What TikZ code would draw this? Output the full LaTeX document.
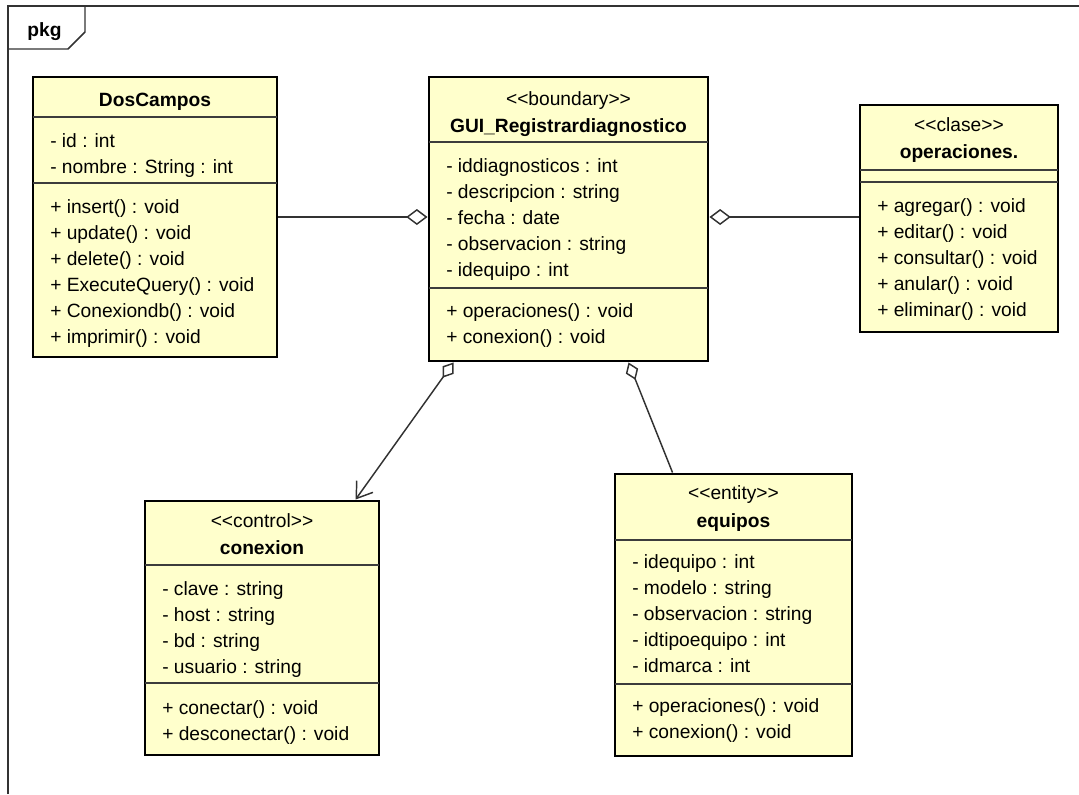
\documentclass[tikz,border=0pt]{standalone}
\usepackage{fontspec}
\setmainfont{Liberation Sans}
\usetikzlibrary{arrows.meta,fit,calc}
\definecolor{clsfill}{RGB}{255,255,204}
\definecolor{divgray}{RGB}{60,60,60}
\definecolor{conngray}{RGB}{50,50,50}
\newcommand{\stl}{<\kern0pt<}
\newcommand{\str}{>\kern0pt>}
\tikzset{
  cls/.style={draw=black, line width=2.2pt, fill=clsfill, inner sep=0pt},
  divline/.style={draw=divgray, line width=1pt},
  txt/.style={anchor=base west, inner sep=0pt, font=\fontsize{14.4}{17}\selectfont},
  ttl/.style={anchor=base, inner sep=0pt, font=\fontsize{14.4}{17}\selectfont\bfseries},
  stereo/.style={anchor=base, inner sep=0pt, font=\fontsize{14.4}{17}\selectfont},
  conn/.style={draw=conngray, line width=1.1pt},
  frameline/.style={draw=conngray, line width=1.1pt}
}
\begin{document}
\begin{tikzpicture}[x=0.75pt, y=-0.75pt]
\useasboundingbox (0,0) rectangle (1079,794);

% package frame
\draw[frameline] (8,794) -- (8,6) -- (1079,6);
\draw[frameline] (85,6) -- (85,32) -- (68,49) -- (8,49);
\node[ttl] (pkg) at (44.5,36) {pkg};

% DosCampos
\node[cls, fit={(33,77) (277,357)}] (dos) {};
\draw[divline] (33,117) -- (277,117);
\draw[divline] (33,183) -- (277,183);
\node[ttl] (dosT) at (155,106) {DosCampos};
\node[txt] (dosA1) at (50,147) {- id : int};
\node[txt] (dosA2) at (50,173) {- nombre : String : int};
\node[txt] (dosM1) at (50,213) {+ insert() : void};
\node[txt] (dosM2) at (50,239) {+ update() : void};
\node[txt] (dosM3) at (50,265) {+ delete() : void};
\node[txt] (dosM4) at (50,291) {+ ExecuteQuery() : void};
\node[txt] (dosM5) at (50,317) {+ Conexiondb() : void};
\node[txt] (dosM6) at (50,343) {+ imprimir() : void};

% GUI_Registrardiagnostico
\node[cls, fit={(429,77) (708,361)}] (gui) {};
\draw[divline] (429,142) -- (708,142);
\draw[divline] (429,288) -- (708,288);
\node[stereo] (guiS) at (568.5,105) {\stl boundary\str};
\node[ttl] (guiT) at (568.5,132) {GUI\_Registrardiagnostico};
\node[txt] (guiA1) at (446,172) {- iddiagnosticos : int};
\node[txt] (guiA2) at (446,198) {- descripcion : string};
\node[txt] (guiA3) at (446,224) {- fecha : date};
\node[txt] (guiA4) at (446,250) {- observacion : string};
\node[txt] (guiA5) at (446,276) {- idequipo : int};
\node[txt] (guiM1) at (446,317) {+ operaciones() : void};
\node[txt] (guiM2) at (446,343) {+ conexion() : void};

% operaciones.
\node[cls, fit={(860,105) (1058,332)}] (ops) {};
\draw[divline] (860,170) -- (1058,170);
\draw[divline] (860,182) -- (1058,182);
\node[stereo] (opsS) at (959,131) {\stl clase\str};
\node[ttl] (opsT) at (959,158) {operaciones.};
\node[txt] (opsM1) at (877,212) {+ agregar() : void};
\node[txt] (opsM2) at (877,238) {+ editar() : void};
\node[txt] (opsM3) at (877,264) {+ consultar() : void};
\node[txt] (opsM4) at (877,290) {+ anular() : void};
\node[txt] (opsM5) at (877,316) {+ eliminar() : void};

% conexion
\node[cls, fit={(145,501) (379,755)}] (con) {};
\draw[divline] (145,565) -- (379,565);
\draw[divline] (145,683) -- (379,683);
\node[stereo] (conS) at (262,527) {\stl control\str};
\node[ttl] (conT) at (262,554) {conexion};
\node[txt] (conA1) at (162,595) {- clave : string};
\node[txt] (conA2) at (162,621) {- host : string};
\node[txt] (conA3) at (162,647) {- bd : string};
\node[txt] (conA4) at (162,673) {- usuario : string};
\node[txt] (conM1) at (162,714) {+ conectar() : void};
\node[txt] (conM2) at (162,740) {+ desconectar() : void};

% equipos
\node[cls, fit={(615,474) (852,756)}] (equ) {};
\draw[divline] (615,540) -- (852,540);
\draw[divline] (615,684) -- (852,684);
\node[stereo] (equS) at (733.5,499) {\stl entity\str};
\node[ttl] (equT) at (733.5,527) {equipos};
\node[txt] (equA1) at (632,568) {- idequipo : int};
\node[txt] (equA2) at (632,594) {- modelo : string};
\node[txt] (equA3) at (632,620) {- observacion : string};
\node[txt] (equA4) at (632,646) {- idtipoequipo : int};
\node[txt] (equA5) at (632,672) {- idmarca : int};
\node[txt] (equM1) at (632,712) {+ operaciones() : void};
\node[txt] (equM2) at (632,738) {+ conexion() : void};

% connectors
\draw[conn, -{Diamond[open, length=16pt, width=12pt]}] (dos.east) -- (gui.west |- dos.east);
\draw[conn, -{Diamond[open, length=16pt, width=12pt]}] (ops.west |- dos.east) -- (gui.east |- dos.east);
\draw[conn, {Diamond[open, length=14pt, width=10pt]}-{Straight Barb[length=11pt, width=15pt]}]
  ($(gui.south west)+(26,0)$) -- ($(con.north west)+(212,0)$);
\draw[conn, {Diamond[open, length=14pt, width=10pt]}-]
  ($(gui.south west)+(201,0)$) -- ($(equ.north west)+(59,0)$);
\end{tikzpicture}
\end{document}
